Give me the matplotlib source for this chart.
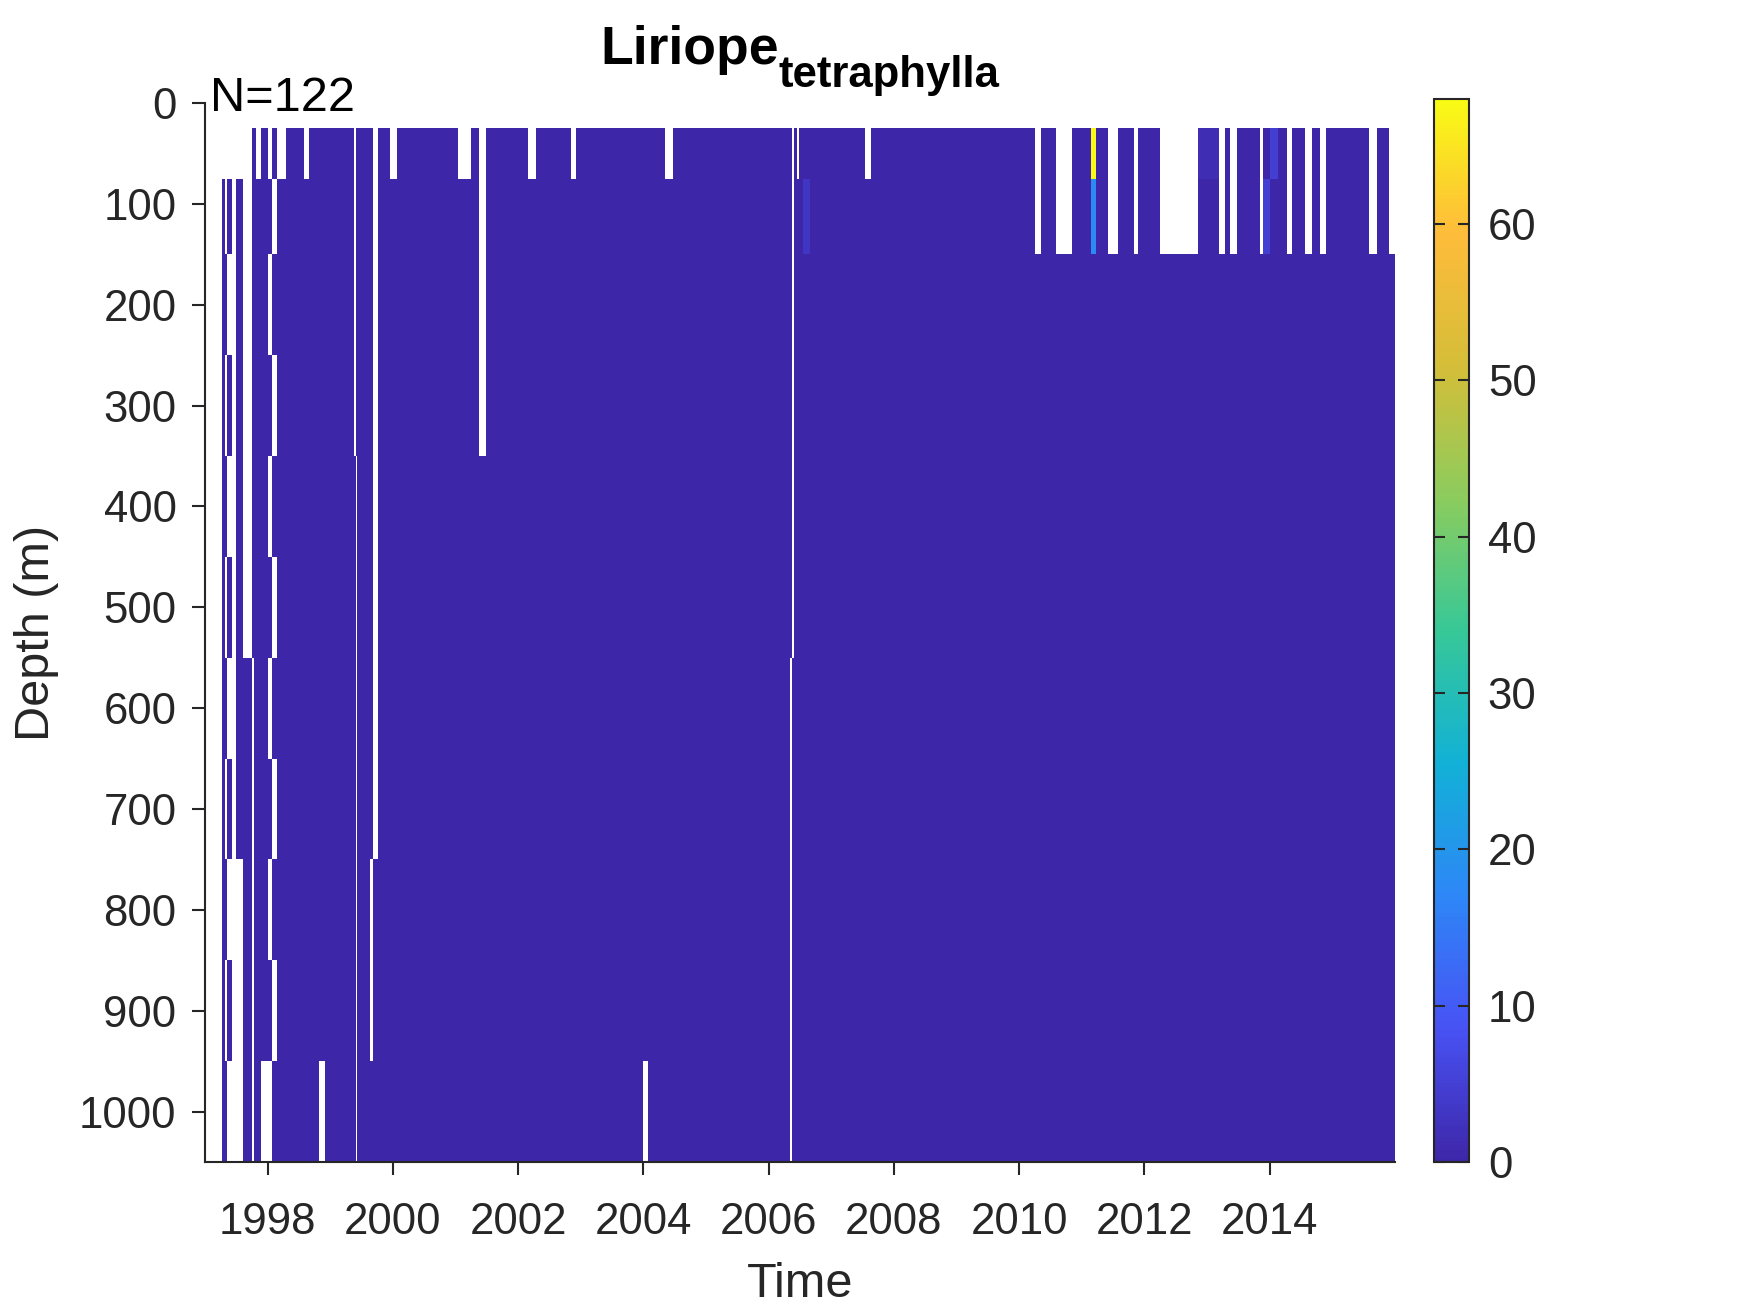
import numpy as np
import matplotlib
matplotlib.use("Agg")
import matplotlib.pyplot as plt
from matplotlib.colors import LinearSegmentedColormap

plt.rcParams['font.family'] = ['Liberation Sans', 'DejaVu Sans']

# ---------------- data ----------------
depth_edges = [25, 75, 150, 250, 350, 450, 550, 650, 750, 850, 950, 1050]

col_start = [
    1997.266, 1997.320, 1997.357, 1997.437, 1997.489, 1997.612, 1997.756, 1997.780,
    1997.820, 1997.888, 1998.010, 1998.075, 1998.155, 1998.287, 1998.580, 1998.660,
    1998.820, 1998.920, 1999.380, 1999.410, 1999.430, 1999.640, 1999.690, 1999.760,
    1999.950, 2000.070, 2001.040, 2001.240, 2001.380, 2001.480, 2002.160, 2002.280,
    2002.850, 2002.920, 2003.990, 2004.080, 2004.340, 2004.480, 2006.340, 2006.365,
    2006.400, 2006.450, 2006.490, 2006.550, 2006.660, 2007.530, 2007.630, 2010.260,
    2010.340, 2010.580, 2010.850, 2011.140, 2011.230, 2011.410, 2011.580, 2011.830,
    2011.890, 2012.240, 2012.860, 2013.190, 2013.280, 2013.370, 2013.470, 2013.850,
    2013.900, 2014.000, 2014.130, 2014.270, 2014.350, 2014.570, 2014.680, 2014.810,
    2014.900, 2015.580, 2015.720, 2015.910,
]
t_end = 2016.0

col_mask = [
    '01111111111', '00101010101', '01010101010', '00000000000', '01111111000', '00000011111',
    '11111100000', '11111111111', '01111111111', '11111111110', '01010101010', '10101010101',
    '01111111111', '11111111111', '01111111111', '11111111111', '11111111110', '11111111111',
    '00001111111', '11110000000', '11111111111', '11111111001', '00000000111', '11111111111',
    '01111111111', '11111111111', '01111111111', '11111111111', '00001111111', '11111111111',
    '01111111111', '11111111111', '01111111111', '11111111111', '11111111110', '11111111111',
    '01111111111', '11111111111', '11111100000', '00000011111', '11111111111', '01111111111',
    '11111111111', '11111111111', '11111111111', '01111111111', '11111111111', '00111111111',
    '11111111111', '00111111111', '11111111111', '11111111111', '11111111111', '00111111111',
    '11111111111', '00111111111', '11111111111', '00111111111', '11111111111', '00111111111',
    '11111111111', '00111111111', '11111111111', '00111111111', '11111111111', '11111111111',
    '11111111111', '00111111111', '11111111111', '00111111111', '11111111111', '00111111111',
    '11111111111', '00111111111', '11111111111', '00111111111',
]

# non-zero abundances: (column start time, depth bin index, value)
spec_start = [2006.550, 2011.140, 2011.140, 2012.860, 2013.900, 2014.000]
spec_row = [1, 0, 1, 0, 1, 0]
spec_val = [3.0, 67.9, 18.0, 1.5, 5.0, 5.0]

n_total = 122
cmax = 68
xticks = [1998, 2000, 2002, 2004, 2006, 2008, 2010, 2012, 2014]
yticks = list(range(0, 1001, 100))
cticks = [0, 10, 20, 30, 40, 50, 60]

# ---------------- build grid ----------------
x_edges = np.array(col_start + [t_end])
nrow = len(depth_edges) - 1
Z = np.full((nrow, len(col_start)), np.nan)
for j, m in enumerate(col_mask):
    for i, ch in enumerate(m):
        if ch == '1':
            Z[i, j] = 0.0
for ts, r, v in zip(spec_start, spec_row, spec_val):
    j = int(np.argmin(np.abs(np.array(col_start) - ts)))
    Z[r, j] = v
Zm = np.ma.masked_invalid(Z)

# parula-like colormap
parula_pts = [
    (0.000, (0.2422, 0.1504, 0.6603)),
    (0.125, (0.2810, 0.3228, 0.9579)),
    (0.250, (0.1786, 0.5289, 0.9682)),
    (0.375, (0.0689, 0.6948, 0.8394)),
    (0.500, (0.2161, 0.7843, 0.5923)),
    (0.625, (0.5474, 0.8004, 0.3670)),
    (0.750, (0.8335, 0.7440, 0.2209)),
    (0.875, (0.9970, 0.7359, 0.2299)),
    (1.000, (0.9769, 0.9839, 0.0805)),
]
parula = LinearSegmentedColormap.from_list('parula', parula_pts, N=256)

# ---------------- figure ----------------
W, H = 1750, 1313
fig = plt.figure(figsize=(W / 100, H / 100), dpi=100)
gray = (0.15, 0.15, 0.15)

ax = fig.add_axes([205 / W, 1 - 1162 / H, (1395 - 205) / W, (1162 - 103) / H])
mesh = ax.pcolormesh(x_edges, depth_edges, Zm, cmap=parula, vmin=0, vmax=cmax,
                     shading='flat', edgecolors='none', antialiased=False)
ax.set_xlim(1997.0, 2016.0)
ax.set_ylim(1050, 0)
ax.set_xticks(xticks)
ax.set_yticks(yticks)
for s in ['top', 'right']:
    ax.spines[s].set_visible(False)
for s in ['left', 'bottom']:
    ax.spines[s].set_color(gray)
    ax.spines[s].set_linewidth(1.5)
ax.tick_params(axis='both', direction='out', length=9.5, width=1.5, colors=gray,
               labelsize=31.5, labelcolor=gray)
ax.tick_params(axis='x', pad=19)
ax.tick_params(axis='y', pad=11)
ax.set_xlabel('Time', fontsize=35, color=gray)
ax.set_ylabel('Depth (m)', fontsize=35, color=gray)
ax.xaxis.set_label_coords(0.5, -0.094)
ax.yaxis.set_label_coords(-0.123, 0.5)

ax.text(0.0045, 1 - 8 / 1059, 'N=%d' % n_total, transform=ax.transAxes,
        fontsize=35, color='black', ha='left', va='baseline')

# colorbar
cax = fig.add_axes([1434 / W, 1 - 1162 / H, 35 / W, (1162 - 99) / H])
cb = fig.colorbar(mesh, cax=cax, ticks=cticks)
cb.outline.set_edgecolor(gray)
cb.outline.set_linewidth(1.5)
cax.tick_params(direction='in', left=True, right=True, length=8, width=1.5,
                colors=gray, labelsize=31.5, labelcolor=gray, pad=13.5)

# title: "Liriope" with subscript "tetraphylla"
fig.canvas.draw()
rend = fig.canvas.get_renderer()
t1 = fig.text(0, 1 - 64 / H, 'Liriope', fontsize=38.5, fontweight='bold',
              color='black', ha='left', va='baseline')
t2 = fig.text(0, 1 - 87 / H, 'tetraphylla', fontsize=31.5, fontweight='bold',
              color='black', ha='left', va='baseline')
w1 = t1.get_window_extent(rend).width
w2 = t2.get_window_extent(rend).width
cx = (205 + 1395) / 2
x0 = cx - (w1 + w2) / 2
t1.set_x(x0 / W)
t2.set_x((x0 + w1) / W)

fig.savefig('out.png', dpi=100)
